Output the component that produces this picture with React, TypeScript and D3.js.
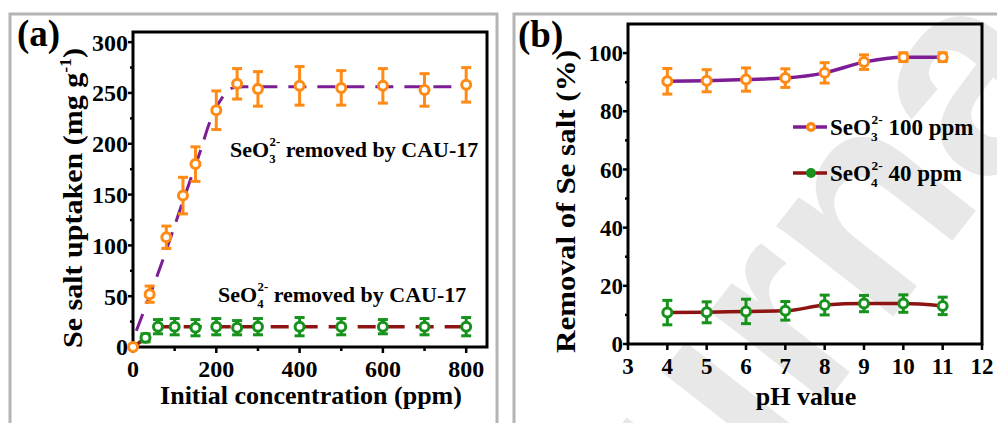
import * as d3 from 'd3'

const W = 997
const H = 423
const FONT = '"Liberation Serif", "Times New Roman", serif'

const ORANGE = '#ff8a14'
const PURPLE = '#7d1d96'
const DARKRED = '#8e1414'
const GREEN = '#17921c'

// panel (a): uptake vs initial concentration
const concSeO3 = [0, 40, 80, 120, 150, 200, 250, 300, 400, 500, 600, 700, 800]
const uptakeSeO3 = [0, 52, 108, 149, 180, 233, 259, 254, 257, 255, 257, 253, 258]
const errSeO3 = [0, 8, 11, 18, 17, 19, 15, 17, 19, 17, 17, 16, 17]
const concSeO4 = [30, 60, 100, 150, 200, 250, 300, 400, 500, 600, 700, 800]
const uptakeSeO4 = [9, 20, 20, 19, 20, 19, 20, 20, 20, 20, 20, 20]
const errSeO4 = [4, 7, 8, 8, 8, 7, 8, 9, 8, 7, 8, 9]
const fitSeO3: [number, number][] = [[8, 16], [72, 86], [117, 140], [161, 192], [185, 222], [215, 246], [240, 255], [265, 256], [800, 256]]
const fitSeO4: [number, number][] = [[0, 0], [30, 9], [58, 19.5], [75, 20], [800, 20]]
const xTicksA = [0, 200, 400, 600, 800]
const xMinorA = [100, 300, 500, 700]
const yTicksA = [0, 50, 100, 150, 200, 250, 300]
const yMinorA = [25, 75, 125, 175, 225, 275]

// panel (b): removal vs pH
const pH = [4, 5, 6, 7, 8, 9, 10, 11]
const removalSeO3 = [90.3, 90.5, 90.9, 91.4, 93.2, 96.9, 98.6, 98.6]
const errRemSeO3 = [4.4, 3.8, 4, 3.2, 3.5, 2.5, 1.5, 1.5]
const removalSeO4 = [10.8, 10.9, 11.2, 11.4, 13.4, 13.9, 13.9, 13.1]
const errRemSeO4 = [4.2, 3.6, 4.2, 3.2, 3.4, 2.8, 3, 3]
const xTicksB = [3, 4, 5, 6, 7, 8, 9, 10, 11, 12]
const yTicksB = [0, 20, 40, 60, 80, 100]
const yMinorB = [10, 30, 50, 70, 90]

const xa = d3.scaleLinear().domain([0, 850]).range([133, 487])
const ya = d3.scaleLinear().domain([0, 310]).range([347, 32])
const xb = d3.scaleLinear().domain([3, 12]).range([628, 982])
const yb = d3.scaleLinear().domain([0, 110]).range([344, 24])

const Point = ({ cx, cy, top, bottom, color }: any) => (
  <g>
    <line x1={cx} x2={cx} y1={top} y2={bottom} stroke={color} strokeWidth={3} />
    <line x1={cx - 5} x2={cx + 5} y1={top} y2={top} stroke={color} strokeWidth={3} />
    <line x1={cx - 5} x2={cx + 5} y1={bottom} y2={bottom} stroke={color} strokeWidth={3} />
    <circle cx={cx} cy={cy} r={4.5} fill="#fff" stroke={color} strokeWidth={3} />
  </g>
)

const Frame = ({ x, y, major, xMinor, yMinor, fontSize }: any) => {
  const [x0, x1] = x.range()
  const [y0, y1] = y.range()
  return (
    <g fontFamily={FONT} fontWeight="bold" fontSize={fontSize}>
      <rect x={x0} y={y1} width={x1 - x0} height={y0 - y1} fill="none" stroke="#000" strokeWidth={3} />
      {major.x.map((t: number) => (
        <g key={'x' + t}>
          <line x1={x(t)} x2={x(t)} y1={y0} y2={y0 + 6} stroke="#000" strokeWidth={2.5} />
          <text x={x(t)} y={y0 + 30} textAnchor="middle">{t}</text>
        </g>
      ))}
      {(xMinor || []).map((t: number) => (
        <line key={'xm' + t} x1={x(t)} x2={x(t)} y1={y0} y2={y0 + 4} stroke="#000" strokeWidth={2.5} />
      ))}
      {major.y.map((t: number) => (
        <g key={'y' + t}>
          <line x1={x0 - 5} x2={x0} y1={y(t)} y2={y(t)} stroke="#000" strokeWidth={2.5} />
          <text x={x0 - 5} y={y(t)} dy="0.35em" textAnchor="end">{t}</text>
        </g>
      ))}
      {(yMinor || []).map((t: number) => (
        <line key={'ym' + t} x1={x0 - 3} x2={x0} y1={y(t)} y2={y(t)} stroke="#000" strokeWidth={2.5} />
      ))}
    </g>
  )
}

const Species = ({ size, sub }: any) => (
  <>
    <tspan>SeO</tspan>
    <tspan fontSize={size * 0.58} dy={6}>{sub}</tspan>
    <tspan fontSize={size * 0.58} dx={-6} dy={-17}>2-</tspan>
    <tspan dy={11}> </tspan>
  </>
)

export default function App() {
  const fitLine = d3.line().x((d) => xa(d[0])).y((d) => ya(d[1])).curve(d3.curveMonotoneX)
  const lineB = d3.line<number>().x((_, i) => xb(pH[i])).y((v) => yb(v)).curve(d3.curveMonotoneX)

  return (
    <svg width={W} height={H} style={{ position: 'absolute', left: 0, top: 0, background: '#fff' }}>
      <rect width={W} height={H} fill="#fff" />
      {/* watermark */}
      <g transform="translate(790,330) rotate(-52)">
        <text x={-552} y={73} fontFamily='"Liberation Sans", sans-serif' fontWeight="bold" fontSize={280} fill="#e8e8e8">
          Journal Pre-proof
        </text>
      </g>
      {/* panel borders */}
      <rect x={10} y={14} width={487} height={430} fill="none" stroke="#b4b4b4" strokeWidth={3} />
      <rect x={514} y={14} width={500} height={430} fill="none" stroke="#b4b4b4" strokeWidth={3} />

      {/* ---- panel a ---- */}
      <Frame x={xa} y={ya} major={{ x: xTicksA, y: yTicksA }} xMinor={xMinorA} yMinor={yMinorA} fontSize={24} />
      <path d={fitLine(fitSeO3) || ''} fill="none" stroke={PURPLE} strokeWidth={3} strokeDasharray="18,11" />
      <path d={fitLine(fitSeO4) || ''} fill="none" stroke={DARKRED} strokeWidth={3.5} strokeDasharray="18,11" />
      {concSeO3.map((c, i) => (
        <Point key={'a3' + i} cx={xa(c)} cy={ya(uptakeSeO3[i])} top={ya(uptakeSeO3[i] + errSeO3[i])} bottom={ya(uptakeSeO3[i] - errSeO3[i])} color={ORANGE} />
      ))}
      {concSeO4.map((c, i) => (
        <Point key={'a4' + i} cx={xa(c)} cy={ya(uptakeSeO4[i])} top={ya(uptakeSeO4[i] + errSeO4[i])} bottom={ya(uptakeSeO4[i] - errSeO4[i])} color={GREEN} />
      ))}
      <g fontFamily={FONT} fontWeight="bold" fontSize={22}>
        <text x={230} y={157}>
          <Species size={22} sub="3" />removed by CAU-17
        </text>
        <text x={218} y={302}>
          <Species size={22} sub="4" />removed by CAU-17
        </text>
        <text x={17} y={46} fontSize={37}>(a)</text>
        <text x={311} y={404} fontSize={26} textAnchor="middle">Initial concentration (ppm)</text>
        <text transform="translate(82,348) rotate(-90)" fontSize={27} textLength={300} lengthAdjust="spacingAndGlyphs">
          Se salt uptaken (mg g<tspan fontSize={16} dy={-11}>-1</tspan><tspan dy={11}>)</tspan>
        </text>
      </g>

      {/* ---- panel b ---- */}
      <Frame x={xb} y={yb} major={{ x: xTicksB, y: yTicksB }} yMinor={yMinorB} fontSize={23} />
      <path d={lineB(removalSeO3) || ''} fill="none" stroke={PURPLE} strokeWidth={3.5} />
      <path d={lineB(removalSeO4) || ''} fill="none" stroke={DARKRED} strokeWidth={3.5} />
      {pH.map((p, i) => (
        <Point key={'b3' + i} cx={xb(p)} cy={yb(removalSeO3[i])} top={yb(removalSeO3[i] + errRemSeO3[i])} bottom={yb(removalSeO3[i] - errRemSeO3[i])} color={ORANGE} />
      ))}
      {pH.map((p, i) => (
        <Point key={'b4' + i} cx={xb(p)} cy={yb(removalSeO4[i])} top={yb(removalSeO4[i] + errRemSeO4[i])} bottom={yb(removalSeO4[i] - errRemSeO4[i])} color={GREEN} />
      ))}
      {/* legend */}
      <g fontFamily={FONT} fontWeight="bold" fontSize={23}>
        <line x1={793} x2={827} y1={127} y2={127} stroke={PURPLE} strokeWidth={3.5} />
        <circle cx={811} cy={127} r={5} fill={ORANGE} />
        <circle cx={811} cy={127} r={1.8} fill="#fff" />
        <text x={830} y={135}>
          <Species size={23} sub="3" />100 ppm
        </text>
        <line x1={793} x2={827} y1={173} y2={173} stroke={DARKRED} strokeWidth={3.5} />
        <circle cx={811} cy={173} r={5} fill={GREEN} />
        <text x={830} y={181}>
          <Species size={23} sub="4" />40 ppm
        </text>
        <text x={518} y={47} fontSize={37}>(b)</text>
        <text x={806} y={405} fontSize={26} textAnchor="middle">pH value</text>
        <text transform="translate(575,353) rotate(-90)" fontSize={27} textLength={303} lengthAdjust="spacingAndGlyphs">
          Removal of Se salt (%)
        </text>
      </g>
    </svg>
  )
}
